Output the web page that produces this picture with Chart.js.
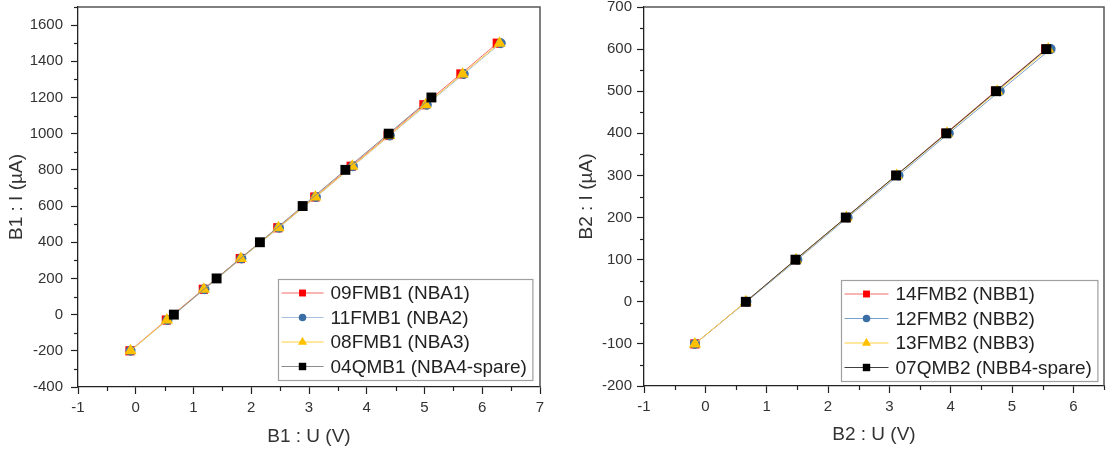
<!DOCTYPE html>
<html><head><meta charset="utf-8">
<script src="https://cdn.jsdelivr.net/npm/chart.js@4.4.0/dist/chart.umd.min.js"></script>
<style>
html,body{margin:0;padding:0;background:#fff;}
#wrap{position:relative;width:1111px;height:453px;overflow:hidden;}
canvas{position:absolute;top:0;}
#c1{left:0;width:560px;height:453px;}
#c2{left:560px;width:551px;height:453px;}
</style></head><body>
<div id="wrap"><canvas id="c1" width="560" height="453"></canvas><canvas id="c2" width="551" height="453"></canvas></div>
<script>
// ---------- data: B1 (left) ----------
const b1Labels = ['09FMB1 (NBA1)', '11FMB1 (NBA2)', '08FMB1 (NBA3)', '04QMB1 (NBA4-spare)'];
const b1Current = [-200, -30, 140, 310, 480, 650, 820, 990, 1160, 1330, 1500];
const b1U_09FMB1 = [-0.10, 0.53, 1.17, 1.81, 2.46, 3.10, 3.73, 4.37, 4.99, 5.63, 6.26];
const b1U_11FMB1 = [-0.09, 0.55, 1.19, 1.83, 2.48, 3.12, 3.76, 4.40, 5.04, 5.68, 6.32];
const b1U_08FMB1 = [-0.09, 0.54, 1.18, 1.82, 2.47, 3.11, 3.75, 4.39, 5.02, 5.66, 6.30];
const b1CurrentSpare = [0, 200, 400, 600, 800, 1000, 1200];
const b1U_04QMB1 = [0.66, 1.40, 2.15, 2.89, 3.63, 4.38, 5.12];

// ---------- data: B2 (right) ----------
const b2Labels = ['14FMB2 (NBB1)', '12FMB2 (NBB2)', '13FMB2 (NBB3)', '07QMB2 (NBB4-spare)'];
const b2Current = [-100, 0, 100, 200, 300, 400, 500, 600];
const b2U_14FMB2 = [-0.17, 0.66, 1.47, 2.29, 3.11, 3.92, 4.73, 5.55];
const b2U_12FMB2 = [-0.17, 0.67, 1.50, 2.32, 3.15, 3.97, 4.80, 5.63];
const b2U_13FMB2 = [-0.17, 0.66, 1.48, 2.30, 3.12, 3.94, 4.76, 5.59];
const b2CurrentSpare = [0, 100, 200, 300, 400, 500, 600];
const b2U_07QMB2 = [0.66, 1.47, 2.29, 3.11, 3.93, 4.74, 5.56];

const F = "'Liberation Sans', Arial, sans-serif";
const TXT = '#333';

function ds(label, xs, ys, marker, lineColor, style, radius, order) {
  return {
    label, data: xs.map((x, i) => ({x, y: ys[i]})),
    showLine: true, borderColor: lineColor, borderWidth: 1,
    backgroundColor: marker, pointBackgroundColor: marker, pointBorderColor: marker,
    pointBorderWidth: 0, pointStyle: style, pointRadius: radius, pointHoverRadius: radius, order
  };
}

function drawMarker(ctx, style, x, y, r, color) {
  ctx.fillStyle = color;
  ctx.beginPath();
  if (style === 'rect') {
    const s = r * Math.SQRT1_2; ctx.rect(x - s, y - s, 2 * s, 2 * s);
  } else if (style === 'circle') {
    ctx.arc(x, y, r, 0, 2 * Math.PI);
  } else if (style === 'triangle') {
    for (let k = 0; k < 3; k++) {
      const a = k * 2 * Math.PI / 3;
      const px = x + Math.sin(a) * r, py = y - Math.cos(a) * r;
      if (k === 0) ctx.moveTo(px, py); else ctx.lineTo(px, py);
    }
    ctx.closePath();
  }
  ctx.fill();
}

const framePlugin = {
  id: 'frame',
  afterDraw(chart, args, opts) {
    const {ctx, chartArea: a, scales} = chart;
    ctx.save();
    ctx.strokeStyle = '#555'; ctx.lineWidth = 1.5;
    ctx.beginPath();
    ctx.moveTo(a.left, a.top); ctx.lineTo(a.right, a.top); ctx.lineTo(a.right, a.bottom);
    ctx.stroke();
    ctx.strokeStyle = '#222'; ctx.lineWidth = 1.2;
    const minor = (scale, step, major, horiz) => {
      const k0 = Math.ceil(scale.min / step - 1e-9), k1 = Math.floor(scale.max / step + 1e-9);
      for (let k = k0; k <= k1; k++) {
        const v = k * step;
        if (Math.abs(Math.round(v / major) * major - v) < 1e-9) continue;
        const p = Math.round(scale.getPixelForValue(v)) + 0.5;
        ctx.beginPath();
        if (horiz) { ctx.moveTo(p, a.bottom); ctx.lineTo(p, a.bottom + 4); }
        else { ctx.moveTo(a.left, p); ctx.lineTo(a.left - 4, p); }
        ctx.stroke();
      }
    };
    minor(scales.x, opts.minorX, opts.majorX, true);
    minor(scales.y, opts.minorY, opts.majorY, false);
    ctx.restore();
  }
};

const legendPlugin = {
  id: 'boxLegend',
  afterDraw(chart, args, opts) {
    const {ctx, chartArea: a} = chart;
    const dsets = chart.data.datasets;
    ctx.save();
    ctx.font = '19px ' + F;
    let tw = 0;
    dsets.forEach(d => { tw = Math.max(tw, ctx.measureText(d.label).width); });
    const w = opts.textOffset + tw + 6, h = 101;
    const x0 = Math.round(a.right - opts.right - w) + 0.5, y0 = Math.round(a.bottom - opts.bottom - h) + 0.5;
    ctx.fillStyle = '#fff'; ctx.fillRect(x0, y0, w, h);
    ctx.strokeStyle = '#a0a0a0'; ctx.lineWidth = 1.2; ctx.strokeRect(x0, y0, w, h);
    dsets.forEach((d, i) => {
      const cy = y0 + 13.5 + i * 24.5;
      ctx.strokeStyle = d.borderColor; ctx.lineWidth = 1.2;
      ctx.beginPath(); ctx.moveTo(x0 + 3, cy); ctx.lineTo(x0 + opts.lineLen, cy); ctx.stroke();
      drawMarker(ctx, d.pointStyle, x0 + 3 + (opts.lineLen - 3) / 2, cy, d.pointRadius * 0.75, d.pointBackgroundColor);
      ctx.fillStyle = '#222'; ctx.textBaseline = 'middle'; ctx.textAlign = 'left';
      ctx.fillText(d.label, x0 + opts.textOffset, cy + 1);
    });
    ctx.restore();
  }
};

function makeScales(cfg) {
  const common = {
    border: {display: true, color: '#222', width: 1.3},
    grid: {display: true, drawOnChartArea: false, drawTicks: true, tickLength: 7, tickColor: '#222', tickWidth: 1.2}
  };
  return {
    x: Object.assign({
      type: 'linear', position: 'bottom', min: cfg.xmin, max: cfg.xmax,
      ticks: {stepSize: cfg.xstep, includeBounds: false, padding: 5, color: TXT, font: {family: F, size: 15},
              maxRotation: 0, autoSkip: false, callback: v => String(v)},
      title: {display: true, text: cfg.xtitle, color: TXT, font: {family: F, size: 19}, padding: {top: 0, bottom: cfg.xtpb}},
      afterFit(s) { s.height = cfg.xh; s.paddingLeft = 0; s.paddingRight = 0; s.paddingTop = 0; s.paddingBottom = 0; }
    }, common),
    y: Object.assign({
      type: 'linear', position: 'left', min: cfg.ymin, max: cfg.ymax,
      ticks: {stepSize: cfg.ystep, includeBounds: false, padding: cfg.ypad, color: TXT, font: {family: F, size: 15},
              autoSkip: false, callback: v => String(v)},
      title: {display: true, text: cfg.ytitle, color: TXT, font: {family: F, size: 19}, padding: {top: cfg.ytpt, bottom: 0}},
      afterFit(s) { s.width = cfg.yw; s.paddingTop = 0; s.paddingBottom = 0; s.paddingLeft = 0; s.paddingRight = 0; }
    }, common)
  };
}

function makeChart(id, datasets, cfg) {
  return new Chart(document.getElementById(id), {
    type: 'scatter',
    data: {datasets},
    options: {
      responsive: false, animation: false, events: [],
      layout: {padding: cfg.pad},
      scales: makeScales(cfg),
      plugins: {
        legend: {display: false}, tooltip: {enabled: false},
        frame: {minorX: cfg.minorX, majorX: cfg.xstep, minorY: cfg.minorY, majorY: cfg.ystep},
        boxLegend: {right: cfg.legRight, bottom: cfg.legBottom, lineLen: cfg.lineLen, textOffset: cfg.textOffset}
      }
    },
    plugins: [framePlugin, legendPlugin]
  });
}

makeChart('c1', [
  ds(b1Labels[0], b1U_09FMB1, b1Current, '#ff0000', '#f46a6a', 'rect', 6.5, 4),
  ds(b1Labels[1], b1U_11FMB1, b1Current, '#3a6ea5', '#a9c1de', 'circle', 5, 3),
  ds(b1Labels[2], b1U_08FMB1, b1Current, '#ffc000', '#ffd040', 'triangle', 7, 2),
  ds(b1Labels[3], b1U_04QMB1, b1CurrentSpare, '#000000', '#8c8c8c', 'rect', 7, 1)
], {
  xmin: -1, xmax: 7, xstep: 1, minorX: 0.5, ymin: -400, ymax: 1700, ystep: 200, minorY: 100,
  xtitle: 'B1 : U (V)', ytitle: 'B1 : I (µA)',
  pad: {top: 4, right: 20, bottom: 0, left: 0}, yw: 78, xh: 66, ytpt: 5.6, xtpb: 4.6, ypad: 8,
  legRight: 8, legBottom: 7, lineLen: 45, textOffset: 52
});

makeChart('c2', [
  ds(b2Labels[0], b2U_14FMB2, b2Current, '#ff0000', '#f46a6a', 'rect', 6.5, 4),
  ds(b2Labels[1], b2U_12FMB2, b2Current, '#3a6ea5', '#7aa0cc', 'circle', 5, 3),
  ds(b2Labels[2], b2U_13FMB2, b2Current, '#ffc000', '#ffd040', 'triangle', 7, 2),
  ds(b2Labels[3], b2U_07QMB2, b2CurrentSpare, '#000000', '#404040', 'rect', 7, 1)
], {
  xmin: -1, xmax: 6.5, xstep: 1, minorX: 0.5, ymin: -200, ymax: 700, ystep: 100, minorY: 50,
  xtitle: 'B2 : U (V)', ytitle: 'B2 : I (µA)',
  pad: {top: 6, right: 4, bottom: 0, left: 0}, yw: 84, xh: 67, ytpt: 15, xtpb: 6.6, ypad: 5,
  legRight: 7, legBottom: 5, lineLen: 47, textOffset: 54
});
</script>
</body></html>
